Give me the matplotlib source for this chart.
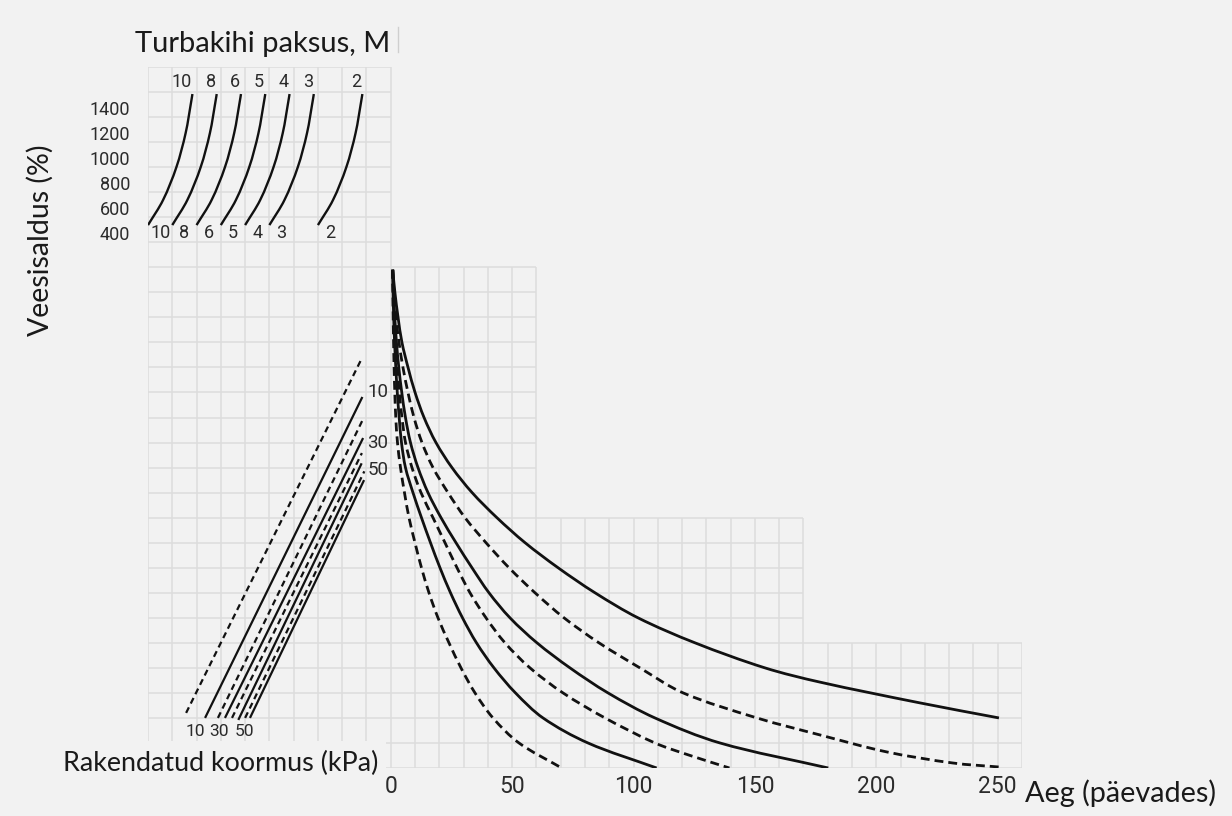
import numpy as np
import matplotlib
matplotlib.use("Agg")
import matplotlib.pyplot as plt
from matplotlib.path import Path
from matplotlib.patches import PathPatch, Rectangle
from matplotlib.lines import Line2D

plt.rcParams['font.family'] = ['Lato', 'DejaVu Sans']

# ------------------------------------------------------------------ data
# top-left panel: peat layer thickness curves (moisture % vs shared grid x)
thickness_labels = ['10', '8', '6', '5', '4', '3', '2']
thickness_start = [-100, -90, -80, -70, -60, -50, -30]
thickness_dx = [0, 6.2, 11.7, 15.5, 17.9, 18.3]
thickness_moist = [464, 664, 927, 1199, 1463, 1511]
moisture_ticks = [400, 600, 800, 1000, 1200, 1400]

# left panel: applied load lines (grid units)
load_labels = ['10', '30', '50']
load_dashed = [True, False, True, False, True, False, True, False]
load_x0 = [-84.3, -76.5, -71.2, -68.3, -65.4, -62.8, -60.0, -58.0]
load_y0 = [2.2, 2.0, 2.0, 2.0, 2.0, 1.92, 2.0, 2.0]
load_x1 = [-11.9, -11.7, -11.6, -11.4, -11.9, -12.0, -10.9, -11.0]
load_y1 = [16.37, 14.82, 13.9, 13.18, 12.58, 12.17, 11.85, 11.5]

# right panel: moisture decay with time (days, grid level)
rows_full = [19.9, 19, 18, 17, 16, 15, 14, 13, 12, 11, 10, 9, 8, 7, 6, 5, 4, 3, 2, 1, 0]
days_D1 = [0.8, 0.86, 0.99, 1.15, 1.36, 1.65, 2.06, 2.76, 4.0, 5.64, 7.5, 9.97,
           12.64, 15.73, 19.44, 23.97, 28.91, 34.68, 42.09, 52.8, 70.4]
level_D1 = rows_full
days_S1 = [0.8, 0.95, 1.19, 1.57, 2.06, 2.68, 3.46, 4.41, 6.05, 9.14, 12.64, 16.35,
           20.26, 24.59, 29.53, 35.3, 42.5, 51.36, 62.69, 81.22, 109.5]
level_S1 = rows_full
days_D2 = [0.8, 1.03, 1.4, 1.94, 2.64, 3.5, 4.61, 6.06, 8.73, 12.44, 17.38, 22.32,
           27.27, 32.62, 39.21, 47.03, 57.33, 70.92, 88.22, 108.8, 123.3, 139.5]
level_D2 = [19.9, 19, 18, 17, 16, 15, 14, 13, 12, 11, 10, 9, 8, 7, 6, 5, 4, 3, 2, 1, 0.5, 0]
days_S2 = [0.8, 1.15, 1.65, 2.35, 3.3, 4.53, 6.05, 8.11, 11.2, 15.32, 20.68, 26.85,
           33.44, 40.44, 49.09, 60.21, 73.8, 89.46, 108.8, 135.6, 180.2]
level_S2 = rows_full
days_D3 = [0.8, 1.32, 2.14, 3.38, 5.02, 7.08, 9.56, 12.85, 17.38, 23.56, 30.56, 39.21,
           48.68, 59.39, 71.33, 85.75, 102.6, 120.4, 150.8, 176.8, 204.4, 231.5, 250.5]
level_D3 = [19.9, 19, 18, 17, 16, 15, 14, 13, 12, 11, 10, 9, 8, 7, 6, 5, 4, 3, 2,
            1.32, 0.64, 0.2, 0.04]
days_S3 = [0.8, 1.7, 3.0, 4.6, 7.1, 10.0, 13.7, 18.6, 25.2, 33.5, 43.7, 55.3, 68.9,
           84.1, 101.8, 125.3, 154.1, 176.8, 218.0, 250.5]
level_S3 = [19.9, 19, 18, 17, 16, 15, 14, 13, 12, 11, 10, 9, 8, 7, 6, 5, 4, 3.43, 2.6, 2.0]
day_ticks = [0, 50, 100, 150, 200, 250]

# ------------------------------------------------------------------ style
BG = '#f2f2f2'
GRID = '#dcdcdc'
INK = '#111111'
TXT = '#1a1a1a'
NUM = '#2b2b2b'
W, H = 1232, 816
PX_X = 874 / 360.0      # pixels per grid-x unit
PX_Y = 701 / 28.0       # pixels per grid row


def smooth_path(xs, ys, sx, sy):
    P = np.column_stack([np.asarray(xs, float) * sx, np.asarray(ys, float) * sy])
    n = len(P)
    d = np.linalg.norm(np.diff(P, axis=0), axis=1)
    T = np.zeros_like(P)
    T[0] = (P[1] - P[0]) / d[0]
    T[-1] = (P[-1] - P[-2]) / d[-1]
    for i in range(1, n - 1):
        T[i] = (P[i + 1] - P[i - 1]) / (d[i - 1] + d[i])
    verts = [P[0]]
    codes = [Path.MOVETO]
    for i in range(n - 1):
        verts += [P[i] + T[i] * d[i] / 3, P[i + 1] - T[i + 1] * d[i] / 3, P[i + 1]]
        codes += [Path.CURVE4] * 3
    V = np.array(verts)
    V[:, 0] /= sx
    V[:, 1] /= sy
    return Path(V, codes)


fig = plt.figure(figsize=(W / 100, H / 100), dpi=100, facecolor=BG)
ax = fig.add_axes([148 / W, (H - 768) / H, 874 / W, 701 / H])
ax.set_xlim(-100, 260)
ax.set_ylim(0, 28)
ax.set_facecolor('none')
for s in ax.spines.values():
    s.set_visible(False)
ax.set_yticks([])
ax.set_xticks(day_ticks)
ax.set_xticklabels([str(t) for t in day_ticks], family='Roboto')
ax.tick_params(axis='x', length=0, pad=5, labelsize=16.5, labelcolor=NUM)

# stepped grid
for gx in range(-100, 261, 10):
    top = 28 if gx <= 0 else 20 if gx <= 60 else 10 if gx <= 170 else 5
    ax.vlines(gx, 0, top, color=GRID, lw=1.1, zorder=1)
for r in range(0, 29):
    right = 260 if r <= 5 else 170 if r <= 10 else 60 if r <= 20 else 0
    ax.hlines(r, -100, right, color=GRID, lw=1.1, zorder=1)

# label box hiding the grid bottom-left
ax.add_patch(Rectangle((-140, -2), 138, 3.08, facecolor=BG, edgecolor='none',
                       zorder=2, clip_on=False))

# load lines
for x0, y0, x1, y1, dsh in zip(load_x0, load_y0, load_x1, load_y1, load_dashed):
    ax.plot([x0, x1], [y0, y1], color=INK, lw=1.6, zorder=3,
            linestyle=(0, (2.8, 1.9)) if dsh else '-', solid_capstyle='butt')
for lab, yy in zip(load_labels, [15.0, 12.98, 11.9]):
    ax.text(-9.6, yy, lab, ha='left', va='center', family='Roboto',
            fontsize=13.5, color=NUM, zorder=4)
for lab, xx in zip(load_labels, [-80.6, -70.7, -60.4]):
    ax.text(xx, 1.44, lab, ha='center', va='center', family='Roboto',
            fontsize=12.5, color=NUM, zorder=4)

# decay curves
curves = [(days_D1, level_D1, True), (days_S1, level_S1, False),
          (days_D2, level_D2, True), (days_S2, level_S2, False),
          (days_D3, level_D3, True), (days_S3, level_S3, False)]
for xs, ys, dsh in curves:
    ax.add_patch(PathPatch(smooth_path(xs, ys, PX_X, PX_Y), fill=False,
                           edgecolor=INK, lw=2.0, zorder=3,
                           linestyle=(0, (3.2, 1.8)) if dsh else '-'))

# top-left thickness panel
row20 = 768 - 20 * PX_Y
ax_top = fig.add_axes([148 / W, (H - row20) / H, 100 * PX_X / W, 8 * PX_Y / H])
ax_top.set_xlim(-100, 0)
ax_top.set_ylim(126.7, 1727)
ax_top.patch.set_visible(False)
for s in ax_top.spines.values():
    s.set_visible(False)
ax_top.set_xticks([])
ax_top.set_yticks(moisture_ticks)
ax_top.set_yticklabels([str(t) for t in moisture_ticks], family='Roboto')
ax_top.tick_params(axis='y', length=0, pad=13, labelsize=13, labelcolor=NUM)
sy_top = 8 * PX_Y / (1727 - 126.7)
for lab, x0 in zip(thickness_labels, thickness_start):
    xs = [x0 + d for d in thickness_dx]
    ax_top.add_patch(PathPatch(smooth_path(xs, thickness_moist, PX_X, sy_top),
                               fill=False, edgecolor=INK, lw=1.7, zorder=3))
    ax_top.text(xs[-1] - 0.4, 1606, lab, ha='right', va='center', family='Roboto',
                fontsize=13, color=NUM)
    ax_top.text(x0 + 5, 400, lab, ha='center', va='center', family='Roboto',
                fontsize=13, color=NUM)

# titles
fig.text(135 / W, 1 - 52 / H, 'Turbakihi paksus, M', ha='left', va='baseline',
         fontsize=21, color=TXT)
fig.add_artist(Line2D([398 / W, 398 / W], [1 - 27 / H, 1 - 52 / H],
                      transform=fig.transFigure, color='#cfcfcf', lw=1))
fig.text(40 / W, 1 - 240 / H, 'Veesisaldus (%)', ha='center', va='center',
         rotation=90, fontsize=20.5, color=TXT)
fig.text(63 / W, 1 - 771 / H, 'Rakendatud koormus (kPa)', ha='left',
         va='baseline', fontsize=19.4, color=TXT, zorder=5)
fig.text(1025 / W, 1 - 802 / H, 'Aeg (päevades)', ha='left', va='baseline',
         fontsize=20.8, color=TXT)

fig.savefig('out.png', dpi=100, facecolor=BG)
